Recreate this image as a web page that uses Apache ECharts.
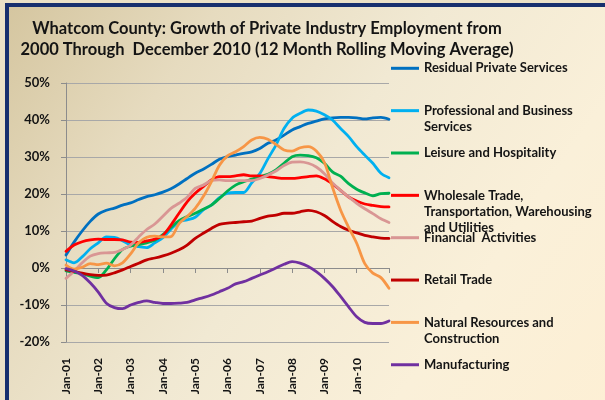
<!DOCTYPE html>
<html>
<head>
<meta charset="utf-8">
<script src="https://cdn.jsdelivr.net/npm/echarts@6/dist/echarts.min.js"></script>
<style>
  html, body { margin: 0; padding: 0; width: 605px; height: 400px; overflow: hidden; background: #ebe1c7; }
  #frame {
    position: absolute; left: 5px; top: 3px; width: 640px; height: 440px;
    border: 4px solid #172f6e;
    background: linear-gradient(125deg, #d5c6a0 0%, #e6dbbf 22%, #f1e9d3 45%, #faf0d9 70%, #feefd3 100%);
  }
  #chart { position: absolute; left: 0; top: 0; width: 605px; height: 400px; }
</style>
</head>
<body>
<div id="frame"></div>
<div id="chart"></div>
<script>
// quarterly points, Jan-01 .. Jan-11 (last point = end of Dec-10)
const months = [
  'Jan-01','Apr-01','Jul-01','Oct-01','Jan-02','Apr-02','Jul-02','Oct-02',
  'Jan-03','Apr-03','Jul-03','Oct-03','Jan-04','Apr-04','Jul-04','Oct-04',
  'Jan-05','Apr-05','Jul-05','Oct-05','Jan-06','Apr-06','Jul-06','Oct-06',
  'Jan-07','Apr-07','Jul-07','Oct-07','Jan-08','Apr-08','Jul-08','Oct-08',
  'Jan-09','Apr-09','Jul-09','Oct-09','Jan-10','Apr-10','Jul-10','Oct-10','Jan-11'
]

const residual = [3.5, 7, 10, 12.6, 14.6, 15.6, 16.2, 17, 17.6, 18.5, 19.3, 19.8, 20.5, 21.4, 22.7, 24.2,
  25.6, 26.7, 28, 29.4, 30.1, 30.5, 31, 31.4, 32.3, 33.7, 34.6, 35.9, 37.3, 38.2, 39.1, 39.7,
  40.3, 40.6, 40.7, 40.7, 40.6, 40.3, 40.6, 40.7, 40.2]
const professional = [2.2, 1.4, 3, 5.2, 6.8, 8.4, 8.3, 7.4, 6.2, 5.8, 5.5, 6.8, 8.2, 10.5, 12.5, 13,
  13.7, 15.7, 17, 19, 20.2, 20.4, 20.4, 23, 25.5, 29.5, 33.2, 37.7, 40.5, 41.8, 42.7, 42.4,
  41.4, 40, 37.7, 35.5, 32.8, 30.5, 28.3, 25.6, 24.4]
const leisure = [-0.8, -1.2, -1.5, -2.2, -2.6, -0.5, 2.5, 5, 5.9, 6.3, 6.8, 7.5, 9, 11, 12.8, 13.9,
  14.8, 15.9, 17, 18.8, 20.8, 22.4, 23.3, 24, 24.7, 25.3, 26.5, 28.3, 30.1, 30.5, 30.4, 29.8,
  28.3, 26, 24.8, 22.8, 21.3, 20.3, 19.5, 20.1, 20.2]
const wholesale = [4.5, 6.2, 7.1, 7.6, 7.8, 7.7, 7.7, 7.6, 7, 6.9, 7.3, 7.8, 8.8, 11.6, 14.8, 17.9,
  20.2, 22, 23.8, 24.7, 24.7, 24.9, 25.2, 24.9, 24.9, 24.7, 24.4, 24.2, 24.2, 24.4, 24.7, 24.9,
  24.1, 22.7, 21, 19.2, 18.1, 17.3, 16.9, 16.6, 16.5]
const financial = [-2.8, -0.9, 1.4, 3.2, 3.9, 4.1, 4.2, 5, 6.2, 8.4, 10.4, 11.9, 14, 16.1, 17.5, 19.1,
  21.5, 22.4, 23.6, 23.8, 23.6, 23.6, 23.6, 23.6, 24.2, 25.1, 26.2, 27.7, 28.6, 28.7, 28.3, 27.3,
  25.5, 23, 21, 19.2, 17.5, 16, 14.7, 13.3, 12.3]
const retail = [-0.5, -0.9, -1.4, -1.8, -2, -1.9, -1.3, -0.5, 0.4, 1.3, 2.2, 2.7, 3.3, 4, 4.9, 6.2,
  8, 9.4, 10.7, 11.8, 12.1, 12.3, 12.5, 12.7, 13.4, 14, 14.3, 14.8, 14.8, 15.2, 15.6, 15.2,
  14.2, 12.6, 11.2, 10.2, 9.5, 8.8, 8.4, 8.1, 8]
const natural = [0.8, -0.3, 0.2, 1.2, 0.9, 1.3, 0.6, 1.4, 3.8, 6.8, 8.3, 8.6, 8.4, 8.5, 12, 13.9,
  16.1, 19.3, 23.3, 27.8, 30.3, 31.4, 32.8, 34.6, 35.3, 34.8, 33.4, 31.9, 31.6, 32.5, 32.8, 31.6,
  28.5, 21.8, 15.7, 11, 6.7, 1.2, -1.4, -2.6, -5.5]
const manufacturing = [-0.2, -0.8, -2, -4, -6.5, -9.5, -10.7, -11, -10, -9.3, -8.9, -9.3, -9.6, -9.6, -9.5, -9.3,
  -8.6, -8, -7.3, -6.4, -5.5, -4.3, -3.7, -2.8, -1.9, -1, 0, 1, 1.7, 1.3, 0.4, -1,
  -2.8, -5, -7.7, -10.5, -13.2, -14.7, -15, -15, -14.3]

const yTicks = { min: -20, max: 50, step: 10 }

const titleLines = [
  'Whatcom County: Growth of Private Industry Employment from',
  '2000 Through  December 2010 (12 Month Rolling Moving Average)'
]

// legend text, wrapped like the original
const legendLines = [
  ['Residual Private Services'],
  ['Professional and Business', 'Services'],
  ['Leisure and Hospitality'],
  ['Wholesale Trade,', 'Transportation, Warehousing', 'and Utilities'],
  ['Financial  Activities'],
  ['Retail Trade'],
  ['Natural Resources and', 'Construction'],
  ['Manufacturing']
]

const seriesDefs = [
  { data: residual,      color: '#0070c0' },
  { data: professional,  color: '#00b0f0' },
  { data: leisure,       color: '#00b050' },
  { data: wholesale,     color: '#ff0000' },
  { data: financial,     color: '#d99694' },
  { data: retail,        color: '#c00000' },
  { data: natural,       color: '#f79646' },
  { data: manufacturing, color: '#7030a0' }
]

const FONT = 'Lato, "Open Sans", sans-serif'
const ink = '#141414'
const axisGray = '#8c8c8c'
const gridGray = '#a8a8a8'

const legendLeft = 391
const legendTop = 60.3
const legendLine = 16
const legendStep = 42.35
const legendFont = 13

const names = legendLines.map((l) => l.join(' '))

const chart = echarts.init(document.getElementById('chart'), null, { renderer: 'canvas' })

const graphics = []
titleLines.forEach((t, i) => {
  graphics.push({
    type: 'text', x: 267, y: 29 + i * 21,
    style: { text: t, align: 'center', verticalAlign: 'middle', fill: ink,
      font: 'bold 16.5px ' + FONT }
  })
})
legendLines.forEach((lines, i) => {
  lines.slice(1).forEach((t, j) => {
    graphics.push({
      type: 'text', x: legendLeft + 33,
      y: legendTop + legendLine / 2 + i * legendStep + (j + 1) * legendLine,
      style: { text: t, verticalAlign: 'middle', fill: ink, font: 'bold ' + legendFont + 'px ' + FONT }
    })
  })
})

chart.setOption({
  animation: false,
  backgroundColor: 'transparent',
  grid: { left: 66, right: 216, top: 83, bottom: 58, containLabel: false },
  tooltip: { trigger: 'axis', valueFormatter: (v) => v + '%' },
  legend: {
    orient: 'vertical', left: legendLeft, top: legendTop, padding: 0,
    icon: 'rect', itemWidth: 28, itemHeight: 3, itemGap: legendStep - legendLine,
    data: names,
    formatter: (n) => legendLines[names.indexOf(n)][0],
    selectedMode: false,
    textStyle: { fontFamily: FONT, fontWeight: 'bold', fontSize: legendFont, color: ink, lineHeight: legendLine }
  },
  xAxis: [
    {
      type: 'category', data: months, boundaryGap: false, position: 'top',
      axisLine: { onZero: true, lineStyle: { color: axisGray, width: 1 } },
      axisTick: { inside: true, length: 5, interval: 3, lineStyle: { color: axisGray } },
      axisLabel: { show: false },
      splitLine: { show: false }
    },
    {
      type: 'category', data: months, boundaryGap: false, position: 'bottom',
      axisLine: { show: false, onZero: false },
      axisTick: { show: false },
      splitLine: { show: false },
      axisLabel: {
        rotate: 90, margin: 16, padding: [7, 0, 0, 0],
        interval: (i) => i % 4 === 0 && i < months.length - 1,
        fontFamily: FONT, fontWeight: 'bold', fontSize: 12, color: ink
      }
    }
  ],
  yAxis: {
    type: 'value', min: yTicks.min, max: yTicks.max, interval: yTicks.step,
    axisLine: { show: true, lineStyle: { color: axisGray } },
    axisTick: { show: true, length: 5, lineStyle: { color: axisGray } },
    splitLine: { lineStyle: { color: gridGray, width: 1 } },
    axisLabel: { formatter: '{value}%', margin: 16, fontFamily: FONT, fontWeight: 'bold', fontSize: 13, color: ink }
  },
  graphic: graphics,
  series: seriesDefs.map((s, i) => ({
    name: names[i],
    type: 'line',
    xAxisIndex: 0,
    data: s.data,
    smooth: 0.3,
    showSymbol: false,
    symbol: 'none',
    lineStyle: { width: 2.8, color: s.color, cap: 'round', join: 'round' },
    itemStyle: { color: s.color }
  }))
})
</script>
</body>
</html>
